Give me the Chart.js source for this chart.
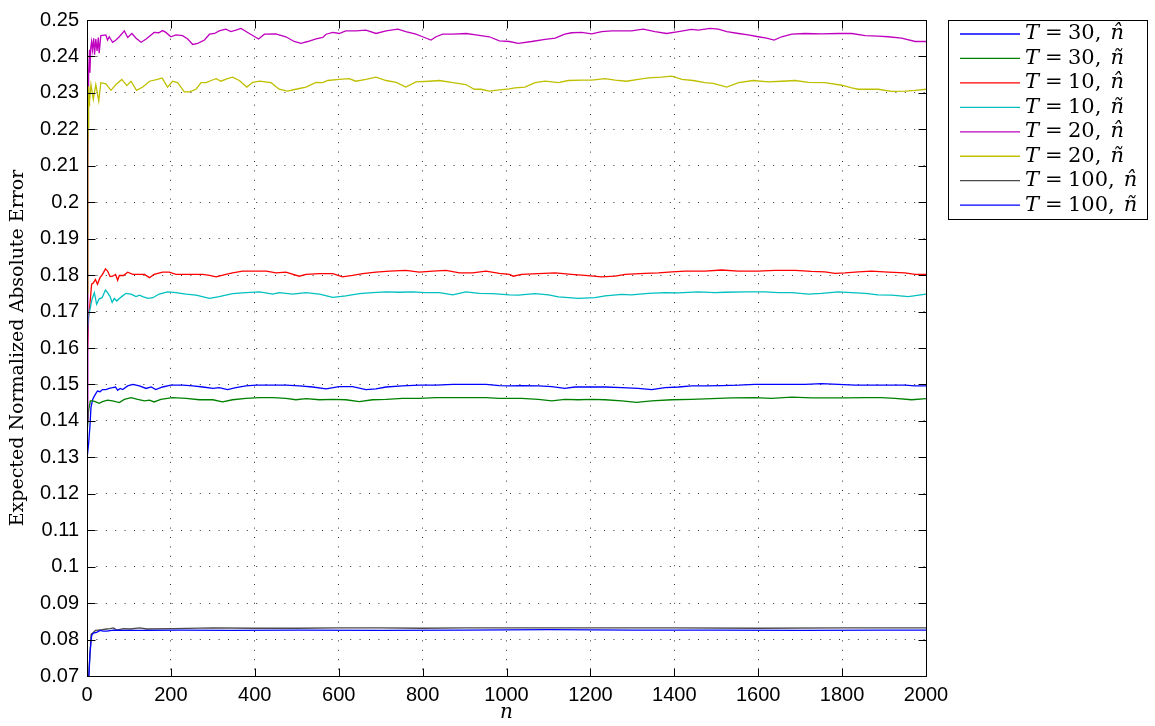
<!DOCTYPE html>
<html>
<head>
<meta charset="utf-8">
<script src="https://cdn.jsdelivr.net/npm/chart.js@4/dist/chart.umd.min.js"></script>
<style>
  html, body { margin: 0; padding: 0; background: #fff; }
  #wrap { width: 1155px; height: 726px; }
</style>
</head>
<body>
<div id="wrap"><canvas id="c" width="1155" height="726"></canvas></div>
<script>
// Series: [n, expected normalized absolute error]
const t30Hat = [[1,0.1306],[4,0.1340],[7,0.1385],[9.5,0.1437],[13.5,0.1459],[17.5,0.1468],[21,0.1475],[25,0.1482],[31,0.1480],[37,0.1486],[45,0.1486],[53,0.1489],[61,0.1491],[68,0.1493],[73,0.1484],[79,0.1489],[85,0.1486],[97,0.1496],[109,0.1500],[125,0.1496],[141,0.1489],[153,0.1493],[164,0.1486],[180,0.1493],[200,0.1498],[228,0.1498],[252,0.1496],[276,0.1493],[300,0.1489],[315,0.1491],[335,0.1486],[355,0.1491],[379,0.1496],[403,0.1498],[435,0.1498],[474,0.1498],[506,0.1496],[538,0.1493],[570,0.1488],[601,0.1494],[633,0.1494],[665,0.1486],[689,0.1488],[713,0.1493],[752,0.1496],[792,0.1498],[832,0.1498],[872,0.1500],[911,0.1500],[951,0.1500],[983,0.1497],[1007,0.1496],[1036,0.1497],[1076,0.1496],[1108,0.1494],[1139,0.1489],[1163,0.1493],[1203,0.1493],[1235,0.1493],[1275,0.1491],[1314,0.1489],[1346,0.1486],[1378,0.1491],[1410,0.1493],[1441,0.1496],[1473,0.1496],[1513,0.1497],[1553,0.1498],[1592,0.1500],[1632,0.1500],[1672,0.1500],[1712,0.1500],[1751,0.1502],[1791,0.1500],[1831,0.1498],[1870,0.1498],[1910,0.1498],[1950,0.1498],[1974,0.1496],[2000,0.1496]];
const t30Tilde = [[1,0.1380],[4,0.1430],[8,0.1455],[13.5,0.1455],[21,0.1452],[29,0.1448],[37,0.1453],[49,0.1457],[61,0.1455],[77,0.1450],[89,0.1459],[105,0.1464],[121,0.1459],[137,0.1455],[149,0.1457],[160,0.1452],[176,0.1459],[204,0.1464],[236,0.1462],[268,0.1458],[300,0.1458],[323,0.1452],[347,0.1458],[379,0.1462],[411,0.1464],[443,0.1464],[474,0.1462],[498,0.1458],[522,0.1461],[554,0.1458],[586,0.1459],[617,0.1458],[649,0.1453],[681,0.1458],[713,0.1459],[752,0.1462],[792,0.1462],[832,0.1464],[872,0.1464],[911,0.1464],[951,0.1464],[983,0.1462],[1007,0.1462],[1036,0.1462],[1076,0.1459],[1108,0.1455],[1139,0.1459],[1171,0.1458],[1203,0.1459],[1235,0.1458],[1275,0.1455],[1310,0.1451],[1346,0.1455],[1394,0.1458],[1441,0.1459],[1489,0.1461],[1537,0.1463],[1592,0.1464],[1632,0.1462],[1680,0.1465],[1727,0.1463],[1759,0.1463],[1807,0.1463],[1855,0.1464],[1894,0.1464],[1926,0.1462],[1966,0.1458],[2000,0.1461]];
const t10Hat = [[1,0.1590],[4,0.1690],[7,0.1720],[11,0.1775],[15,0.1778],[20,0.1788],[25,0.1775],[31,0.1793],[37,0.1802],[44,0.1817],[49,0.1811],[55,0.1796],[61,0.1797],[68,0.1802],[73,0.1786],[77,0.1799],[87,0.1799],[97,0.1808],[109,0.1802],[125,0.1802],[137,0.1802],[149,0.1793],[160,0.1802],[180,0.1808],[196,0.1808],[212,0.1802],[236,0.1802],[252,0.1802],[276,0.1802],[292,0.1799],[308,0.1795],[331,0.1802],[347,0.1806],[371,0.1811],[395,0.1811],[427,0.1811],[451,0.1806],[474,0.1808],[506,0.1797],[522,0.1802],[554,0.1804],[586,0.1804],[609,0.1795],[633,0.1799],[657,0.1804],[689,0.1808],[721,0.1811],[760,0.1813],[792,0.1808],[824,0.1811],[856,0.1813],[888,0.1806],[919,0.1806],[951,0.1811],[983,0.1805],[1007,0.1802],[1016,0.1797],[1036,0.1802],[1076,0.1804],[1116,0.1806],[1155,0.1802],[1187,0.1799],[1227,0.1795],[1259,0.1797],[1283,0.1802],[1330,0.1805],[1362,0.1806],[1394,0.1809],[1426,0.1811],[1473,0.1811],[1513,0.1814],[1553,0.1811],[1600,0.1811],[1640,0.1813],[1688,0.1813],[1727,0.1810],[1759,0.1809],[1783,0.1805],[1807,0.1806],[1839,0.1809],[1870,0.1811],[1910,0.1808],[1950,0.1806],[1974,0.1802],[2000,0.1802]];
const t10Tilde = [[1,0.1640],[4,0.1690],[7,0.1705],[12,0.1734],[17.5,0.1752],[23,0.1720],[29,0.1735],[36,0.1738],[44,0.1759],[49,0.1752],[55,0.1741],[60,0.1725],[65,0.1736],[71,0.1729],[77,0.1736],[85,0.1743],[93,0.1750],[105,0.1748],[117,0.1741],[125,0.1745],[133,0.1741],[145,0.1736],[157,0.1738],[172,0.1748],[192,0.1754],[212,0.1752],[236,0.1748],[260,0.1745],[292,0.1736],[315,0.1741],[347,0.1749],[379,0.1752],[411,0.1754],[443,0.1748],[458,0.1752],[490,0.1748],[522,0.1752],[554,0.1748],[586,0.1739],[617,0.1743],[649,0.1749],[681,0.1752],[713,0.1754],[745,0.1753],[776,0.1754],[808,0.1752],[840,0.1752],[872,0.1746],[903,0.1754],[935,0.1750],[967,0.1749],[1007,0.1746],[1028,0.1745],[1068,0.1749],[1100,0.1746],[1124,0.1740],[1171,0.1736],[1211,0.1738],[1235,0.1743],[1275,0.1747],[1298,0.1746],[1338,0.1750],[1378,0.1752],[1410,0.1751],[1457,0.1754],[1497,0.1752],[1521,0.1753],[1569,0.1754],[1616,0.1754],[1648,0.1752],[1680,0.1752],[1720,0.1748],[1751,0.1750],[1791,0.1754],[1823,0.1752],[1855,0.1750],[1886,0.1746],[1918,0.1745],[1958,0.1741],[2000,0.1748]];
const t20Hat = [[1,0.1400],[2,0.2100],[4,0.2360],[6,0.2418],[7,0.2355],[9,0.2425],[11,0.2441],[13,0.2418],[16,0.2450],[18,0.2405],[21,0.2448],[24,0.2415],[27,0.2452],[29,0.2409],[33,0.2457],[45,0.2459],[49,0.2445],[53,0.2454],[61,0.2439],[69,0.2445],[77,0.2454],[89,0.2470],[97,0.2452],[107,0.2463],[117,0.2450],[129,0.2439],[141,0.2448],[160,0.2466],[171,0.2465],[180,0.2471],[188,0.2466],[200,0.2454],[212,0.2459],[228,0.2457],[240,0.2448],[252,0.2433],[264,0.2436],[280,0.2445],[292,0.2461],[304,0.2463],[315,0.2470],[331,0.2475],[343,0.2468],[355,0.2472],[367,0.2477],[387,0.2463],[409,0.2448],[423,0.2461],[450,0.2462],[474,0.2454],[494,0.2441],[510,0.2436],[526,0.2441],[546,0.2448],[562,0.2452],[570,0.2461],[586,0.2466],[601,0.2463],[617,0.2470],[641,0.2470],[665,0.2472],[689,0.2463],[713,0.2470],[741,0.2475],[760,0.2468],[784,0.2461],[800,0.2454],[820,0.2445],[832,0.2454],[848,0.2461],[872,0.2461],[904,0.2463],[927,0.2459],[959,0.2454],[983,0.2443],[1007,0.2441],[1028,0.2436],[1060,0.2441],[1092,0.2447],[1116,0.2450],[1139,0.2461],[1155,0.2465],[1179,0.2466],[1203,0.2462],[1227,0.2468],[1251,0.2470],[1298,0.2470],[1326,0.2475],[1354,0.2468],[1382,0.2463],[1410,0.2468],[1441,0.2474],[1457,0.2472],[1485,0.2477],[1505,0.2475],[1525,0.2468],[1553,0.2463],[1576,0.2459],[1600,0.2454],[1620,0.2450],[1638,0.2445],[1656,0.2454],[1680,0.2461],[1712,0.2463],[1751,0.2462],[1791,0.2463],[1823,0.2463],[1855,0.2457],[1886,0.2456],[1910,0.2454],[1942,0.2450],[1974,0.2441],[2000,0.2441]];
const t20Tilde = [[1,0.1750],[2,0.2150],[3,0.2205],[4,0.2318],[5,0.2265],[6,0.2278],[9.5,0.2323],[15,0.2282],[21,0.2323],[28,0.2278],[33,0.2328],[45,0.2325],[57,0.2307],[69,0.2323],[83,0.2337],[95,0.2320],[105,0.2332],[118,0.2307],[133,0.2316],[149,0.2332],[168,0.2337],[179,0.2341],[192,0.2316],[204,0.2332],[216,0.2328],[232,0.2303],[244,0.2303],[260,0.2310],[272,0.2328],[284,0.2328],[296,0.2334],[308,0.2339],[319,0.2332],[335,0.2339],[347,0.2343],[363,0.2334],[381,0.2316],[395,0.2329],[411,0.2332],[439,0.2328],[458,0.2310],[478,0.2305],[498,0.2310],[522,0.2316],[546,0.2329],[562,0.2328],[574,0.2334],[601,0.2337],[625,0.2339],[641,0.2332],[665,0.2337],[689,0.2343],[713,0.2334],[737,0.2329],[760,0.2316],[784,0.2330],[816,0.2332],[840,0.2334],[872,0.2328],[903,0.2323],[923,0.2310],[939,0.2310],[959,0.2305],[983,0.2308],[1007,0.2311],[1020,0.2314],[1044,0.2316],[1068,0.2328],[1092,0.2332],[1124,0.2328],[1147,0.2334],[1179,0.2335],[1203,0.2335],[1235,0.2339],[1259,0.2335],[1286,0.2332],[1314,0.2337],[1338,0.2341],[1370,0.2343],[1394,0.2346],[1418,0.2337],[1445,0.2334],[1473,0.2328],[1493,0.2326],[1525,0.2316],[1553,0.2328],[1588,0.2334],[1624,0.2330],[1656,0.2332],[1688,0.2334],[1720,0.2329],[1759,0.2328],[1799,0.2321],[1823,0.2314],[1839,0.2310],[1863,0.2310],[1886,0.2310],[1918,0.2304],[1950,0.2305],[1974,0.2307],[2000,0.2310]];
const t100Hat = [[1,0.0600],[3,0.0680],[7,0.0758],[10,0.0815],[14,0.0818],[20,0.0825],[27,0.0826],[36,0.0827],[47,0.0829],[55,0.0830],[63,0.0832],[71,0.0826],[87,0.0830],[103,0.0829],[126,0.0832],[142,0.0829],[206,0.0830],[300,0.0832],[400,0.0831],[500,0.0831],[600,0.0832],[700,0.0832],[800,0.0831],[900,0.0832],[1000,0.0832],[1200,0.0832],[1400,0.0832],[1600,0.0831],[1800,0.0832],[2000,0.0832]];
const t100Tilde = [[1,0.0550],[3,0.0660],[7,0.0761],[11,0.0811],[15,0.0818],[23,0.0820],[31,0.0825],[39,0.0823],[47,0.0823],[63,0.0826],[87,0.0825],[142,0.0825],[222,0.0826],[341,0.0825],[500,0.0826],[700,0.0825],[900,0.0826],[1100,0.0827],[1300,0.0826],[1500,0.0826],[1700,0.0825],[1900,0.0826],[2000,0.0826]];

// Legend parameters: horizon T and estimator symbol (n hat / n tilde)
const horizons = [30, 30, 10, 10, 20, 20, 100, 100];
const estimators = ['n\u0302', '\u00f1', 'n\u0302', '\u00f1', 'n\u0302', '\u00f1', 'n\u0302', '\u00f1'];
const seriesData = [t30Hat, t30Tilde, t10Hat, t10Tilde, t20Hat, t20Tilde, t100Hat, t100Tilde];
const seriesColors = ['#0000ff', '#008000', '#ff0000', '#00bfbf', '#bf00bf', '#bfbf00', '#4a4a4a', '#0000ff'];

// Axis ticks
const xTicks = [0, 200, 400, 600, 800, 1000, 1200, 1400, 1600, 1800, 2000];
const yTicks = [0.07, 0.08, 0.09, 0.1, 0.11, 0.12, 0.13, 0.14, 0.15, 0.16, 0.17, 0.18, 0.19, 0.2, 0.21, 0.22, 0.23, 0.24, 0.25];

const datasets = seriesData.map((pts, i) => ({
  label: `T = ${horizons[i]}, ${estimators[i]}`,
  data: pts.map(([n, v]) => ({ x: n, y: v })),
  borderColor: seriesColors[i],
  backgroundColor: seriesColors[i],
  borderWidth: 1.3,
  pointRadius: 0,
  tension: 0,
  fill: false,
  order: seriesData.length - i
}));

const SERIF = '"DejaVu Serif", "Liberation Serif", serif';
const SANS = '"Liberation Sans", Arial, Helvetica, sans-serif';

// Full box around the axes plus inward tick marks on all four sides
const axesBox = {
  id: 'axesBox',
  afterDatasetsDraw(chart) {
    const { ctx, chartArea: a, scales: { x, y } } = chart;
    ctx.save();
    ctx.strokeStyle = '#000';
    ctx.lineWidth = 1;
    ctx.setLineDash([]);
    const L = Math.round(a.left) + 0.5, R = Math.round(a.right) + 0.5;
    const T = Math.round(a.top) + 0.5, B = Math.round(a.bottom) + 0.5;
    ctx.beginPath();
    ctx.rect(L, T, R - L, B - T);
    const tl = 8;
    xTicks.forEach(v => {
      const px = Math.round(x.getPixelForValue(v)) + 0.5;
      ctx.moveTo(px, B); ctx.lineTo(px, B - tl);
      ctx.moveTo(px, T); ctx.lineTo(px, T + tl);
    });
    yTicks.forEach(v => {
      const py = Math.round(y.getPixelForValue(v)) + 0.5;
      ctx.moveTo(L, py); ctx.lineTo(L + tl, py);
      ctx.moveTo(R, py); ctx.lineTo(R - tl, py);
    });
    ctx.stroke();
    ctx.restore();
  }
};

// Boxed legend to the right of the axes, with italic math symbols
const mathLegend = {
  id: 'mathLegend',
  afterDraw(chart) {
    const ctx = chart.ctx;
    const bx = chart.chartArea.right + 22, by = chart.chartArea.top;
    const bw = 199, bh = 199;
    ctx.save();
    ctx.fillStyle = '#fff';
    ctx.fillRect(bx, by, bw, bh);
    ctx.strokeStyle = '#000';
    ctx.lineWidth = 1;
    ctx.strokeRect(Math.round(bx) + 0.5, Math.round(by) + 0.5, bw, bh);
    const rowH = 24.45;
    const fs = 21;
    ctx.textBaseline = 'middle';
    ctx.fillStyle = '#000';
    chart.data.datasets.forEach((ds, i) => {
      const cy = by + 14 + i * rowH;
      ctx.strokeStyle = ds.borderColor;
      ctx.lineWidth = ds.borderWidth;
      ctx.beginPath();
      ctx.moveTo(bx + 12, cy);
      ctx.lineTo(bx + 72, cy);
      ctx.stroke();
      const tx = bx + 77;
      ctx.font = `italic ${fs}px ${SERIF}`;
      ctx.fillText('T', tx, cy);
      ctx.font = `${fs}px ${SERIF}`;
      ctx.fillText('=', tx + 20, cy);
      const num = `${horizons[i]},`;
      ctx.fillText(num, tx + 43, cy);
      const nx = tx + 43 + ctx.measureText(num).width + 9;
      ctx.font = `italic ${fs}px ${SERIF}`;
      ctx.fillText(estimators[i], nx, cy);
    });
    ctx.restore();
  }
};

new Chart(document.getElementById('c'), {
  type: 'line',
  data: { datasets },
  plugins: [axesBox, mathLegend],
  options: {
    responsive: false,
    animation: false,
    devicePixelRatio: 1,
    layout: { padding: { left: 0, right: 229, top: 13, bottom: 0 } },
    plugins: { legend: { display: false }, tooltip: { enabled: false } },
    scales: {
      x: {
        type: 'linear',
        min: 0, max: 2000,
        afterFit(scale) { scale.height = 50; },
        afterBuildTicks(scale) { scale.ticks = xTicks.map(v => ({ value: v })); },
        ticks: {
          padding: 7,
          color: '#000',
          font: { family: SANS, size: 20 },
          maxRotation: 0,
          callback: v => String(v)
        },
        grid: { color: '#333', lineWidth: 1, drawTicks: false },
        border: { display: false, dash: [1, 8.4] },
        title: {
          display: true, text: 'n', color: '#000',
          font: { family: SERIF, size: 20, style: 'italic' },
          padding: { top: 0, bottom: 1 }
        }
      },
      y: {
        type: 'linear',
        min: 0.07, max: 0.25,
        afterFit(scale) { scale.width = 87; },
        afterBuildTicks(scale) { scale.ticks = yTicks.map(v => ({ value: v })); },
        ticks: {
          padding: 8,
          color: '#000',
          font: { family: SANS, size: 20 },
          callback: v => String(Number(v.toFixed(2)))
        },
        grid: { color: '#333', lineWidth: 1, drawTicks: false },
        border: { display: false, dash: [1, 8.4] },
        title: {
          display: true, text: 'Expected Normalized Absolute Error', color: '#000',
          font: { family: SERIF, size: 19 },
          padding: { top: 7, bottom: 0 }
        }
      }
    }
  }
});
</script>
</body>
</html>
